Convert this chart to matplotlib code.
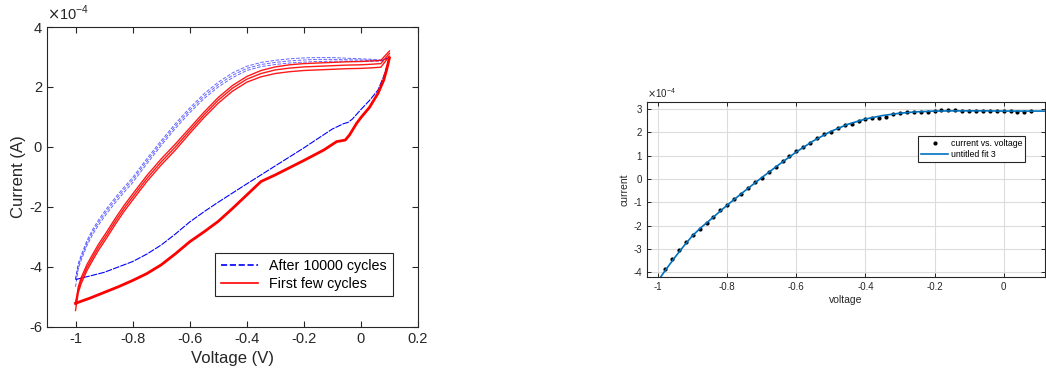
import numpy as np
import matplotlib
matplotlib.use('Agg')
import matplotlib.pyplot as plt

plt.rcParams['font.family'] = ['Liberation Sans', 'DejaVu Sans']
plt.rcParams['axes.unicode_minus'] = False

# ---- left panel: cyclic voltammetry loops (current in units of 1e-4 A) ----
v_up = [-1.0, -0.99, -0.98, -0.96, -0.94, -0.92, -0.89, -0.86, -0.83, -0.8, -0.75, -0.7, -0.65,
        -0.6, -0.55, -0.5, -0.45, -0.4, -0.35, -0.3, -0.25, -0.2, -0.15, -0.1, -0.05, 0.0,
        0.04, 0.07, 0.1]

red_up = [
    [-5.25, -4.65, -4.35, -3.92, -3.58, -3.25, -2.82, -2.37, -1.95, -1.57, -0.95, -0.40, 0.10,
     0.63, 1.16, 1.65, 2.05, 2.35, 2.55, 2.67, 2.74, 2.78, 2.80, 2.82, 2.84, 2.85, 2.87, 2.89, 3.2],
    [-5.2, -4.75, -4.45, -4.02, -3.68, -3.35, -2.92, -2.47, -2.05, -1.67, -1.05, -0.50, 0.00,
     0.54, 1.07, 1.56, 1.96, 2.26, 2.45, 2.57, 2.63, 2.67, 2.69, 2.71, 2.73, 2.74, 2.76, 2.78, 3.12],
    [-5.45, -4.85, -4.55, -4.12, -3.78, -3.45, -3.02, -2.57, -2.15, -1.77, -1.15, -0.60, -0.10,
     0.45, 0.98, 1.46, 1.86, 2.16, 2.34, 2.45, 2.51, 2.55, 2.57, 2.59, 2.61, 2.62, 2.64, 2.66, 3.03],
]
v_red_lo = [0.1, 0.09, 0.08, 0.06, 0.03, 0.0, -0.015, -0.04, -0.055, -0.085, -0.13, -0.2, -0.25,
            -0.3, -0.35, -0.4, -0.45, -0.5, -0.55, -0.6, -0.65, -0.7, -0.75, -0.8, -0.85, -0.9,
            -0.95, -1.0]
red_lo = [2.97, 2.57, 2.23, 1.79, 1.32, 0.98, 0.79, 0.40, 0.23, 0.18, -0.10, -0.45, -0.69,
          -0.93, -1.15, -1.60, -2.05, -2.48, -2.83, -3.16, -3.56, -3.93, -4.22, -4.45, -4.66, -4.85,
          -5.04, -5.21]

blue_up = [
    [-4.4, -3.87, -3.6, -3.12, -2.75, -2.44, -2.04, -1.68, -1.34, -1.02, -0.39, 0.21, 0.78,
     1.30, 1.77, 2.16, 2.47, 2.69, 2.82, 2.89, 2.94, 2.97, 2.98, 2.98, 2.96, 2.94, 2.92, 2.90, 2.98],
    [-4.42, -3.95, -3.68, -3.2, -2.83, -2.52, -2.12, -1.76, -1.42, -1.10, -0.47, 0.13, 0.70,
     1.22, 1.69, 2.08, 2.39, 2.62, 2.75, 2.82, 2.87, 2.90, 2.92, 2.92, 2.91, 2.90, 2.89, 2.88, 2.98],
    [-4.66, -4.05, -3.77, -3.29, -2.92, -2.61, -2.21, -1.85, -1.51, -1.19, -0.56, 0.05, 0.62,
     1.14, 1.61, 2.00, 2.31, 2.55, 2.68, 2.75, 2.80, 2.83, 2.85, 2.86, 2.86, 2.86, 2.86, 2.86, 2.98],
]
v_blue_lo = [0.1, 0.09, 0.08, 0.06, 0.03, 0.0, -0.03, -0.045, -0.06, -0.1, -0.2, -0.3, -0.4,
             -0.5, -0.55, -0.6, -0.65, -0.7, -0.75, -0.8, -0.85, -0.9, -0.95, -1.0]
blue_lo = [2.98, 2.67, 2.36, 1.9, 1.55, 1.25, 0.93, 0.82, 0.78, 0.6, -0.03, -0.63, -1.23,
           -1.84, -2.16, -2.5, -2.9, -3.27, -3.57, -3.82, -4.0, -4.18, -4.3, -4.42]

# ---- right panel: fit of the forward sweep (units of 1e-4 A) ----
v_pts = [-0.98, -0.96, -0.94, -0.92, -0.90, -0.88, -0.86, -0.84, -0.82, -0.80, -0.78, -0.76,
         -0.74, -0.72, -0.70, -0.68, -0.66, -0.64, -0.62, -0.60, -0.58, -0.56, -0.54, -0.52,
         -0.50, -0.48, -0.46, -0.44, -0.42, -0.40, -0.38, -0.36, -0.34, -0.32, -0.30, -0.28,
         -0.26, -0.24, -0.22, -0.20, -0.18, -0.16, -0.14, -0.12, -0.10, -0.08, -0.06, -0.04,
         -0.02, 0.00, 0.02, 0.04, 0.06, 0.08]
i_pts = [-3.87, -3.44, -3.04, -2.71, -2.40, -2.13, -1.90, -1.63, -1.33, -1.13, -0.87, -0.64,
         -0.40, -0.11, 0.06, 0.29, 0.50, 0.76, 0.97, 1.19, 1.39, 1.53, 1.77, 1.94,
         2.03, 2.19, 2.30, 2.36, 2.47, 2.59, 2.61, 2.63, 2.64, 2.77, 2.84, 2.87,
         2.87, 2.86, 2.89, 2.93, 2.97, 2.96, 2.94, 2.93, 2.93, 2.93, 2.91, 2.91,
         2.93, 2.91, 2.91, 2.89, 2.87, 2.93]
v_fit = [-1.0, -0.975, -0.95, -0.925, -0.9, -0.875, -0.85, -0.8, -0.75, -0.7, -0.65, -0.6, -0.55,
         -0.5, -0.45, -0.4, -0.35, -0.3, -0.25, -0.2, -0.15, -0.1, -0.05, 0.0, 0.05, 0.1, 0.12]
i_fit = [-4.35, -3.83, -3.33, -2.86, -2.42, -2.07, -1.76, -1.12, -0.52, 0.06, 0.62, 1.16, 1.64,
         2.04, 2.35, 2.57, 2.72, 2.82, 2.88, 2.91, 2.92, 2.92, 2.92, 2.91, 2.91, 2.91, 2.91]

dark = '#262626'
fig = plt.figure(figsize=(10.46, 3.74), dpi=100)

# left axes
ax = fig.add_axes([0.0449, 0.1257, 0.3547, 0.8021])
for k, y in enumerate(blue_up):
    ax.plot(v_up, y, color='blue', ls='--', lw=0.7, alpha=0.6,
            label='After 10000 cycles' if k == 0 else None)
ax.plot(v_blue_lo, blue_lo, color='blue', ls='--', dashes=(6, 1), lw=0.8)
for k, y in enumerate(red_up):
    ax.plot(v_up, y, color='red', lw=1.0, alpha=0.9,
            label='First few cycles' if k == 0 else None)
ax.plot(v_red_lo, red_lo, color='red', lw=2.0)

ax.set_xlim(-1.1, 0.2)
ax.set_ylim(-6, 4)
ax.set_xticks(np.arange(-1, 0.21, 0.2))
ax.set_xticklabels(['-1', '-0.8', '-0.6', '-0.4', '-0.2', '0', '0.2'])
ax.set_yticks([-6, -4, -2, 0, 2, 4])
ax.tick_params(direction='in', top=True, right=True, labelsize=10.5, colors=dark,
               length=4, width=0.8)
for s in ax.spines.values():
    s.set_color(dark)
    s.set_linewidth(0.8)
ax.set_xlabel('Voltage (V)', fontsize=12, color=dark, labelpad=4)
ax.set_ylabel('Current (A)', fontsize=12, color=dark, labelpad=2)
ax.text(0.0, 1.012, r'$\times$10$^{\mathregular{-4}}$', transform=ax.transAxes, fontsize=10.5,
        color=dark, va='bottom', ha='left')
leg = ax.legend(loc='lower right', bbox_to_anchor=(0.951, 0.078), fontsize=10.3,
                fancybox=False, edgecolor=dark, framealpha=1, handlelength=2.6,
                borderpad=0.4, labelspacing=0.25, handletextpad=0.8)
leg.get_frame().set_linewidth(0.8)
for h in leg.get_lines():
    h.set_alpha(1)
    h.set_linewidth(1.2)

# right axes
ax2 = fig.add_axes([0.6183, 0.2594, 0.3808, 0.4679])
ax2.plot(v_pts, i_pts, ls='none', marker='.', color='black', ms=4, label='current vs. voltage')
ax2.plot(v_fit, i_fit, color='#0072BD', lw=1.2, label='untitled fit 3')
ax2.set_xlim(-1.033, 0.12)
ax2.set_ylim(-4.2, 3.3)
ax2.set_xticks([-1, -0.8, -0.6, -0.4, -0.2, 0])
ax2.set_xticklabels(['-1', '-0.8', '-0.6', '-0.4', '-0.2', '0'])
ax2.set_yticks([-4, -3, -2, -1, 0, 1, 2, 3])
ax2.grid(True, color='#dcdcdc', lw=0.8)
ax2.set_axisbelow(True)
ax2.tick_params(direction='in', top=True, right=True, labelsize=7, colors=dark,
                length=3, width=0.7)
for s in ax2.spines.values():
    s.set_color(dark)
    s.set_linewidth(0.8)
ax2.set_xlabel('voltage', fontsize=7.5, color=dark, labelpad=2)
ax2.set_ylabel('current', fontsize=7.5, color=dark, labelpad=3)
ax2.text(0.0, 1.01, r'$\times$10$^{\mathregular{-4}}$', transform=ax2.transAxes, fontsize=7,
         color=dark, va='bottom', ha='left')
leg2 = ax2.legend(loc='upper left', bbox_to_anchor=(0.67, 0.833), fontsize=6.3,
                  fancybox=False, edgecolor=dark, framealpha=1, handlelength=3.1,
                  borderpad=0.35, labelspacing=0.3, handletextpad=0.3)
leg2.get_frame().set_linewidth(0.8)

fig.savefig('out.png', dpi=100)
